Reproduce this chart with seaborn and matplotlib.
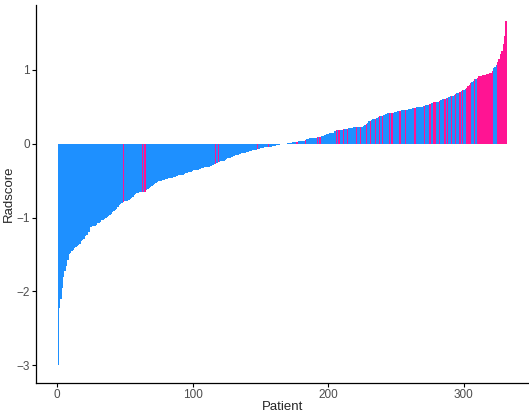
import matplotlib
matplotlib.use("Agg")
import matplotlib.pyplot as plt
import seaborn as sns
import numpy as np
import pandas as pd

# sorted radscore per patient
radscore = [
    -3.00, -2.22, -2.10, -1.95, -1.81, -1.72, -1.66, -1.57, -1.50, -1.48,
    -1.45, -1.44, -1.41, -1.40, -1.38, -1.37, -1.36, -1.32, -1.31, -1.29,
    -1.25, -1.23, -1.20, -1.19, -1.13, -1.12, -1.12, -1.11, -1.10, -1.08,
    -1.07, -1.06, -1.04, -1.03, -1.02, -1.01, -0.99, -0.98, -0.97, -0.95,
    -0.93, -0.91, -0.90, -0.88, -0.86, -0.83, -0.82, -0.81, -0.79, -0.78,
    -0.77, -0.77, -0.76, -0.75, -0.74, -0.72, -0.70, -0.68, -0.67, -0.67,
    -0.66, -0.66, -0.66, -0.65, -0.65, -0.63, -0.61, -0.60, -0.58, -0.57,
    -0.56, -0.55, -0.53, -0.52, -0.51, -0.50, -0.50, -0.49, -0.49, -0.48,
    -0.48, -0.47, -0.47, -0.46, -0.46, -0.45, -0.45, -0.44, -0.44, -0.43,
    -0.43, -0.42, -0.42, -0.41, -0.40, -0.40, -0.39, -0.38, -0.38, -0.37,
    -0.36, -0.36, -0.35, -0.35, -0.34, -0.34, -0.33, -0.33, -0.32, -0.32,
    -0.31, -0.31, -0.30, -0.30, -0.29, -0.28, -0.27, -0.26, -0.25, -0.25,
    -0.24, -0.23, -0.23, -0.22, -0.21, -0.20, -0.20, -0.19, -0.18, -0.17,
    -0.17, -0.16, -0.15, -0.15, -0.14, -0.13, -0.13, -0.12, -0.12, -0.11,
    -0.11, -0.10, -0.10, -0.09, -0.09, -0.08, -0.08, -0.07, -0.07, -0.06,
    -0.06, -0.06, -0.05, -0.05, -0.05, -0.04, -0.04, -0.04, -0.03, -0.03,
    -0.03, -0.02, -0.02, -0.02, -0.01, -0.01, -0.01, 0.00, 0.00, 0.01,
    0.01, 0.01, 0.01, 0.02, 0.02, 0.02, 0.02, 0.03, 0.03, 0.03,
    0.04, 0.04, 0.05, 0.06, 0.06, 0.07, 0.07, 0.07, 0.08, 0.08,
    0.08, 0.09, 0.09, 0.09, 0.10, 0.11, 0.12, 0.12, 0.13, 0.13,
    0.14, 0.14, 0.15, 0.15, 0.17, 0.18, 0.18, 0.19, 0.19, 0.19,
    0.20, 0.20, 0.20, 0.20, 0.21, 0.21, 0.21, 0.21, 0.22, 0.22,
    0.22, 0.22, 0.23, 0.23, 0.23, 0.24, 0.25, 0.27, 0.28, 0.30,
    0.31, 0.32, 0.33, 0.34, 0.34, 0.35, 0.36, 0.37, 0.37, 0.38,
    0.39, 0.40, 0.40, 0.41, 0.41, 0.42, 0.42, 0.42, 0.43, 0.43,
    0.44, 0.44, 0.44, 0.45, 0.45, 0.46, 0.46, 0.46, 0.47, 0.47,
    0.47, 0.48, 0.48, 0.48, 0.49, 0.49, 0.50, 0.50, 0.50, 0.51,
    0.51, 0.52, 0.53, 0.53, 0.54, 0.55, 0.55, 0.56, 0.56, 0.57,
    0.57, 0.58, 0.59, 0.60, 0.60, 0.61, 0.62, 0.62, 0.63, 0.64,
    0.65, 0.65, 0.66, 0.67, 0.68, 0.69, 0.70, 0.71, 0.72, 0.73,
    0.74, 0.76, 0.78, 0.80, 0.82, 0.84, 0.85, 0.87, 0.88, 0.89,
    0.91, 0.92, 0.92, 0.93, 0.93, 0.93, 0.94, 0.94, 0.95, 0.96,
    0.98, 1.03, 1.04, 1.06, 1.11, 1.15, 1.22, 1.25, 1.35, 1.46,
    1.66,
]

# patients (1-based rank) drawn in pink
pink_patients = [
    49, 63, 65, 117, 119, 148, 156, 177, 183, 192, 194, 206, 208, 211, 214,
    221, 224, 228, 231, 235, 238, 240, 245, 247, 253, 257, 264, 271, 275,
    278, 279, 282, 286, 288, 291, 294, 297, 299, 302, 303, 304, 305, 308,
    310, 311, 312, 313, 314, 315, 316, 317, 318, 319, 320, 321,
    325, 326, 327, 328, 329, 330, 331,
]

groups = ["low", "high"]
colors = ["#1E90FF", "#FF1493"]

patient = np.arange(1, len(radscore) + 1)
df = pd.DataFrame({
    "patient": patient,
    "radscore": radscore,
    "group": ["high" if p in pink_patients else "low" for p in patient],
})

sns.set_style("ticks")
plt.rcParams["font.family"] = ["Liberation Sans", "DejaVu Sans"]

fig = plt.figure(figsize=(5.29, 4.12), dpi=100)
ax = fig.add_axes([0.068, 0.0704, 0.932, 0.918])

sns.barplot(data=df, x="patient", y="radscore", hue="group",
            hue_order=groups, palette=dict(zip(groups, colors)),
            native_scale=True, width=1, dodge=False, errorbar=None,
            saturation=1, linewidth=0, legend=False, ax=ax)

# crisp pixel-snapped bars so the single pink bars read as solid lines
for bar in ax.patches:
    bar.set_antialiased(False)

ax.set_xlim(-15.5, 348)
ax.set_ylim(-3.24, 1.88)
ax.set_xticks([0, 100, 200, 300])
ax.set_yticks([-3, -2, -1, 0, 1])
ax.set_xlabel("Patient", fontsize=9.5, labelpad=0)
ax.set_ylabel("Radscore", fontsize=9.5, labelpad=1)
ax.tick_params(labelsize=8.5, colors="black", labelcolor="#4d4d4d",
               length=3, width=0.8, pad=1.5)
for s in ["top", "right"]:
    ax.spines[s].set_visible(False)
for s in ["left", "bottom"]:
    ax.spines[s].set_linewidth(0.9)
    ax.spines[s].set_color("black")

fig.savefig("out.png", dpi=100)
